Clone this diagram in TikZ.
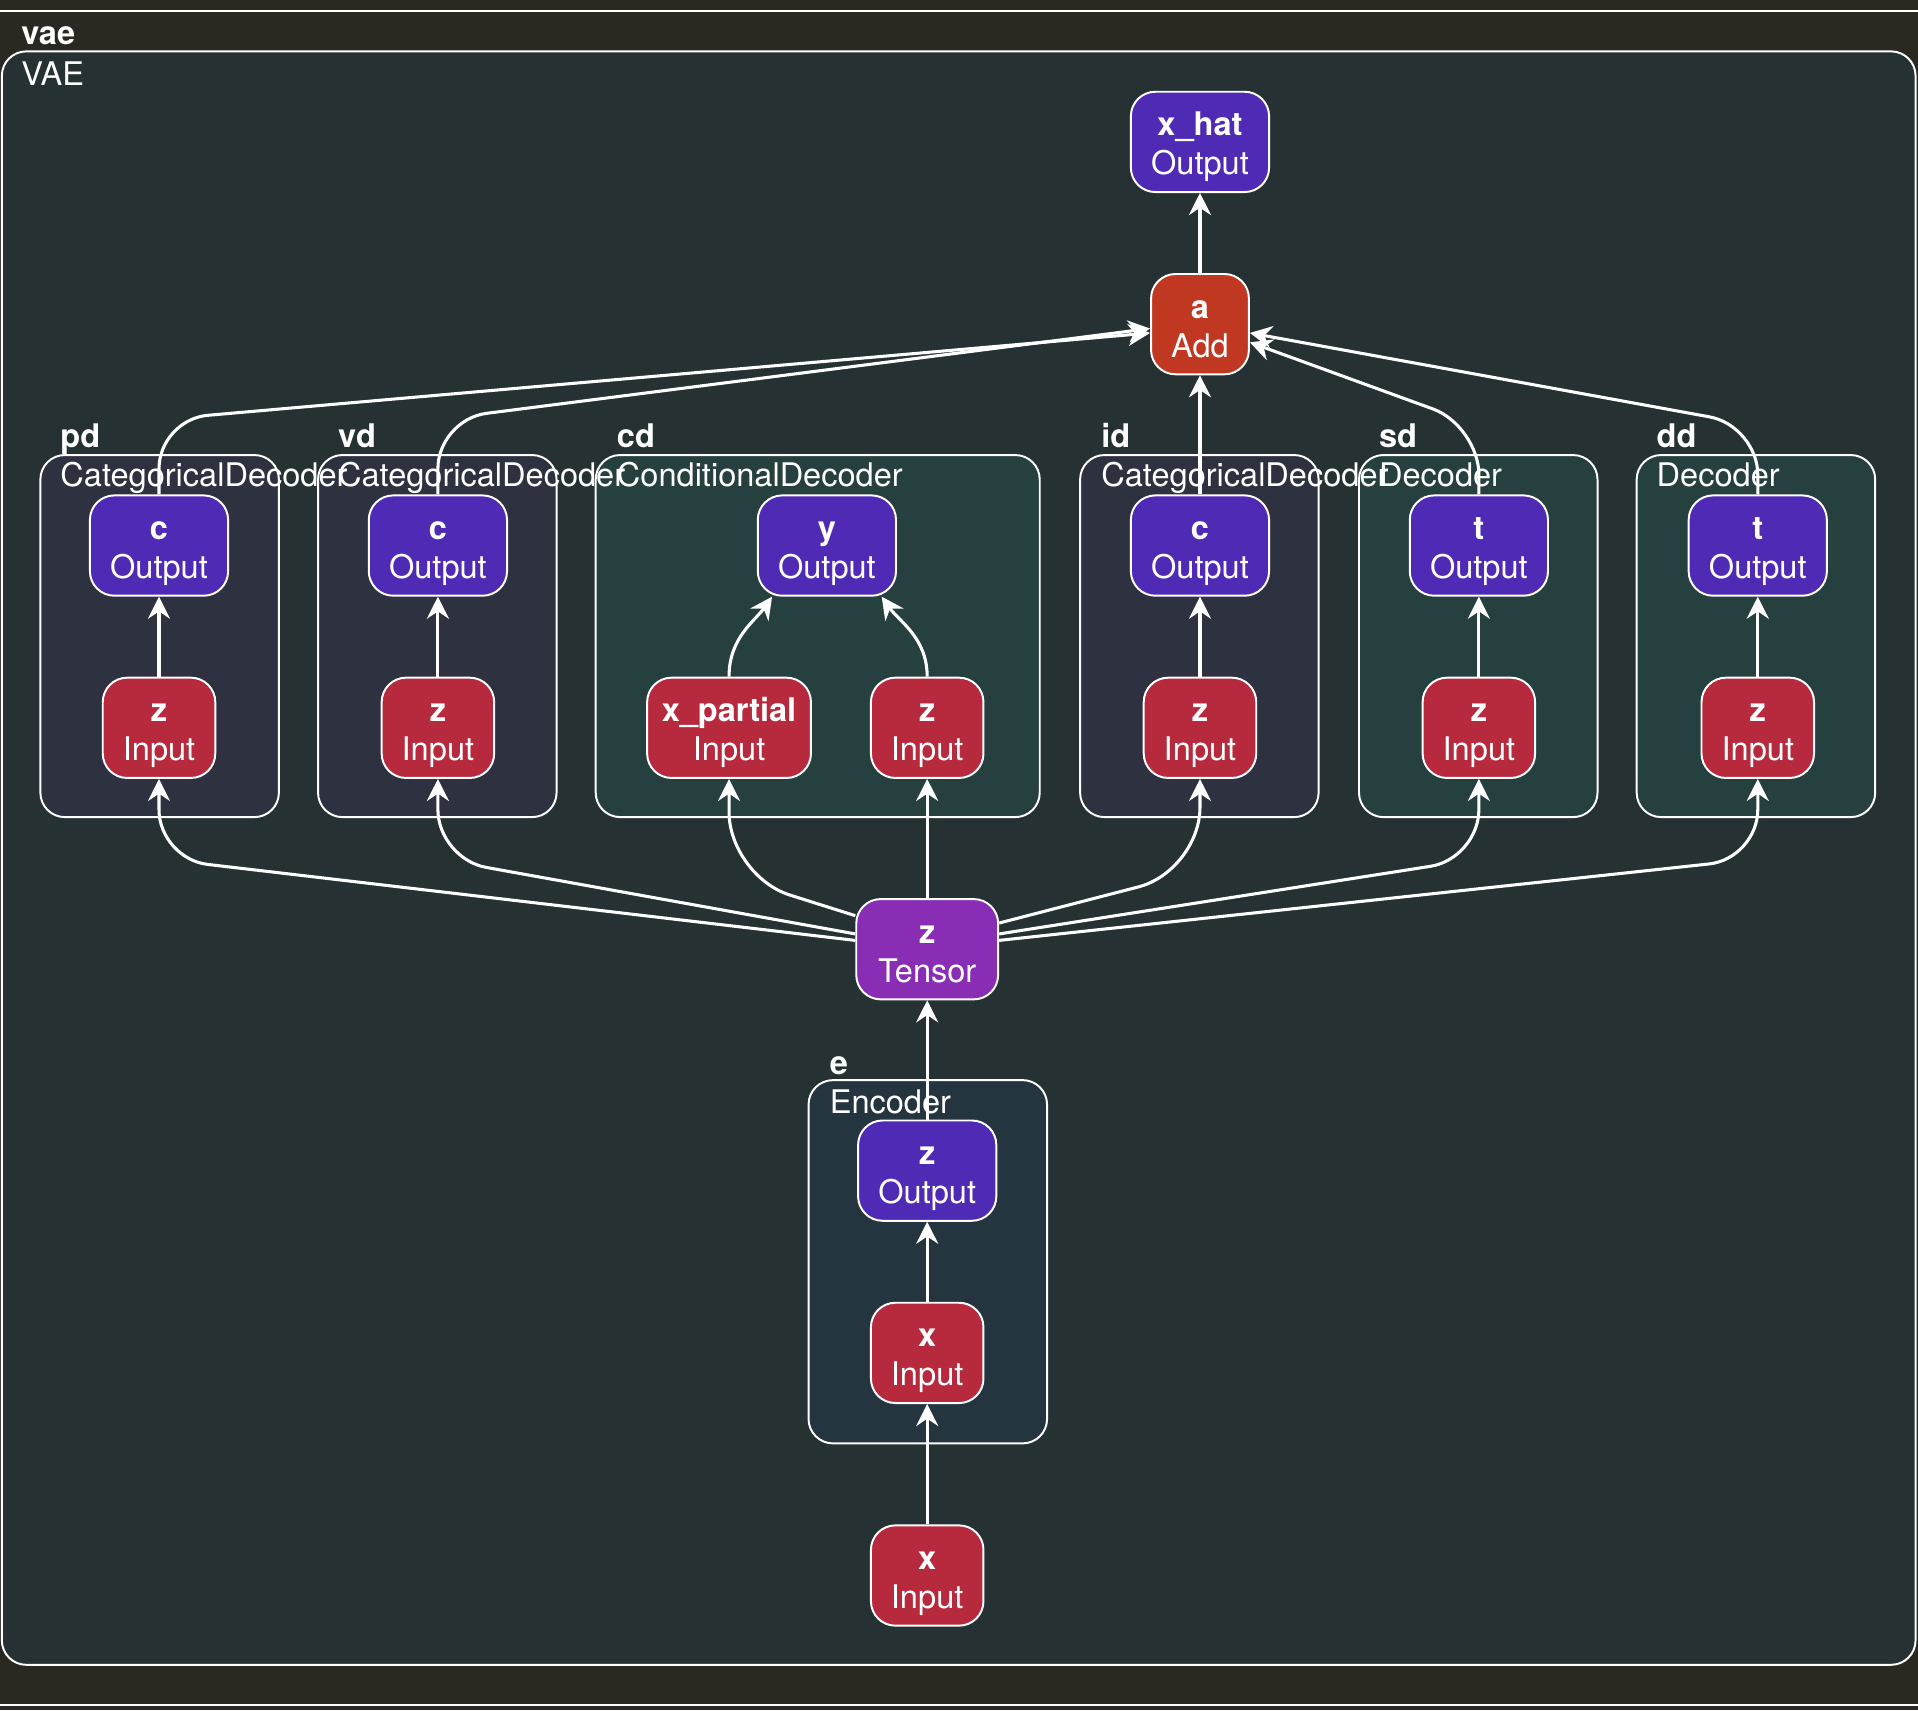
\documentclass[tikz,border=0pt]{standalone}
\usepackage{fontspec}
\setmainfont{TeX Gyre Heros}
\usetikzlibrary{arrows.meta}

\newcommand{\optext}[2]{\rule{0pt}{18pt}\textbf{#1}\\#2\rule[-7pt]{0pt}{0pt}}

\begin{document}
\begin{tikzpicture}[x=0.5pt,y=-0.5pt,
  every node/.style={text=white, font=\fontsize{13.3}{16}\selectfont},
  op/.style={draw=white, line width=0.8pt, rounded corners=10pt, align=center,
    inner xsep=6pt, inner ysep=0pt, minimum height=41pt},
  outnode/.style={op, fill=outColor, minimum width=56.5pt},
  innode/.style={op, fill=inColor, minimum width=46pt},
  addnode/.style={op, fill=addColor, minimum width=40pt},
  tensornode/.style={op, fill=tensorColor, minimum width=58pt},
  grp/.style={draw=white, line width=0.8pt, rounded corners=10pt},
  grpname/.style={anchor=base west, inner sep=0pt, font=\fontsize{13.3}{16}\selectfont\bfseries},
  grptype/.style={anchor=base west, inner sep=0pt},
  flow/.style={draw=white, line width=1.25pt, rounded corners=20pt,
    -{Stealth[length=9pt,width=9pt,inset=3pt]}}]
\definecolor{bgColor}{RGB}{41,41,34}
\definecolor{vaeFill}{RGB}{38,49,51}
\definecolor{catFill}{RGB}{46,50,64}
\definecolor{decFill}{RGB}{38,64,63}
\definecolor{encFill}{RGB}{37,53,64}
\definecolor{outColor}{RGB}{79,43,181}
\definecolor{inColor}{RGB}{183,42,61}
\definecolor{addColor}{RGB}{193,56,34}
\definecolor{tensorColor}{RGB}{138,45,181}

\path[use as bounding box,fill=bgColor] (0,0) rectangle (1568,1398);
\draw[white,line width=1pt] (0,9) -- (1568,9);
\draw[white,line width=1pt] (0,1394) -- (1568,1394);

% outer model
\path[grp,fill=vaeFill] (1.5,42) rectangle (1566,1361);
\node[grpname] (vaename) at (17,36) {vae};
\node[grptype] (vaetype) at (17,70) {VAE};

% groups
\path[grp,fill=catFill] (33,372) rectangle (228,668);
\path[grp,fill=catFill] (260,372) rectangle (455,668);
\path[grp,fill=decFill] (487,372) rectangle (850,668);
\path[grp,fill=catFill] (883,372) rectangle (1078,668);
\path[grp,fill=decFill] (1111,372) rectangle (1306,668);
\path[grp,fill=decFill] (1338,372) rectangle (1533,668);
\path[grp,fill=encFill] (661,883) rectangle (856,1180);

% group labels
\node[grpname] (pdname) at (49,366) {pd};
\node[grptype] (pdtype) at (49,398) {CategoricalDecoder};
\node[grpname] (vdname) at (276,366) {vd};
\node[grptype] (vdtype) at (276,398) {CategoricalDecoder};
\node[grpname] (cdname) at (504,366) {cd};
\node[grptype] (cdtype) at (504,398) {ConditionalDecoder};
\node[grpname] (idname) at (900,366) {id};
\node[grptype] (idtype) at (900,398) {CategoricalDecoder};
\node[grpname] (sdname) at (1127,366) {sd};
\node[grptype] (sdtype) at (1127,398) {Decoder};
\node[grpname] (ddname) at (1354,366) {dd};
\node[grptype] (ddtype) at (1354,398) {Decoder};
\node[grpname] (ename) at (678,878) {e};
\node[grptype] (etype) at (678,910) {Encoder};

% operations
\node[outnode] (xhat) at (981,116) {\optext{x\_hat}{Output}};
\node[addnode] (a) at (981,265) {\optext{a}{Add}};

\node[outnode] (pdc) at (130,446) {\optext{c}{Output}};
\node[innode] (pdz) at (130,595) {\optext{z}{Input}};
\node[outnode] (vdc) at (358,446) {\optext{c}{Output}};
\node[innode] (vdz) at (358,595) {\optext{z}{Input}};
\node[outnode] (cdy) at (676,446) {\optext{y}{Output}};
\node[innode,minimum width=66.5pt] (cdx) at (596,595) {\optext{x\_partial}{Input}};
\node[innode] (cdz) at (758,595) {\optext{z}{Input}};
\node[outnode] (idc) at (981,446) {\optext{c}{Output}};
\node[innode] (idz) at (981,595) {\optext{z}{Input}};
\node[outnode] (sdt) at (1209,446) {\optext{t}{Output}};
\node[innode] (sdz) at (1209,595) {\optext{z}{Input}};
\node[outnode] (ddt) at (1437,446) {\optext{t}{Output}};
\node[innode] (ddz) at (1437,595) {\optext{z}{Input}};

\node[tensornode] (z) at (758,776) {\optext{z}{Tensor}};
\node[outnode] (ez) at (758,957) {\optext{z}{Output}};
\node[innode] (ex) at (758,1106) {\optext{x}{Input}};
\node[innode] (x) at (758,1288) {\optext{x}{Input}};

% edges
\draw[flow] (a) -- (xhat);
\draw[flow] (idc) -- (a);
\draw[flow] (pdc.north) -- (130,343) -- (a.190);
\draw[flow] (vdc.north) -- (358,343) -- (a.185);
\draw[flow] (sdt.north) -- (1209,348) -- (a.-20);
\draw[flow] (ddt.north) -- (1437,348) -- (a.-10);

\draw[flow] (pdz) -- (pdc);
\draw[flow] (vdz) -- (vdc);
\draw[flow] (idz) -- (idc);
\draw[flow] (sdz) -- (sdt);
\draw[flow] (ddz) -- (ddt);
\draw[flow] (cdx.north) .. controls +(0,-32) and +(-14,20) .. (cdy.-137);
\draw[flow] (cdz.north) .. controls +(0,-32) and +(14,20) .. (cdy.-43);

\draw[flow] (z.173) -- (130,702) -- (pdz.south);
\draw[flow] (z.168) -- (358,702) -- (vdz.south);
\draw[flow,rounded corners=26pt] (z.155) -- (596,716) -- (cdx.south);
\draw[flow] (z) -- (cdz);
\draw[flow,rounded corners=26pt] (z.20) -- (981,712) -- (idz.south);
\draw[flow] (z.12) -- (1209,702) -- (sdz.south);
\draw[flow] (z.7) -- (1437,702) -- (ddz.south);

\draw[flow] (ez) -- (z);
\draw[flow] (ex) -- (ez);
\draw[flow] (x) -- (ex);
\end{tikzpicture}
\end{document}
